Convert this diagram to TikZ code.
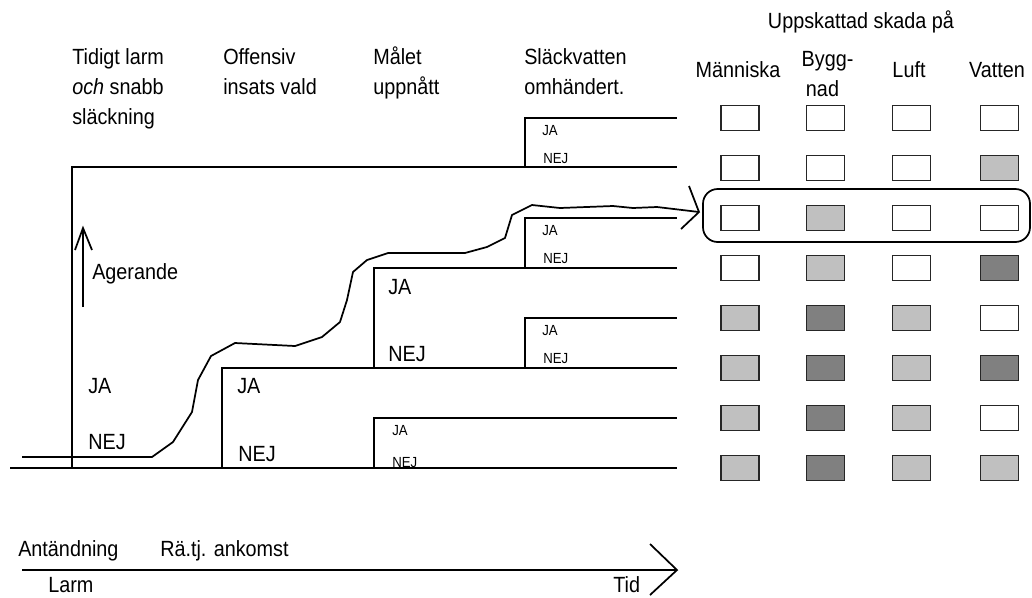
\documentclass[tikz,border=0pt]{standalone}
\usepackage{fontspec}
\setmainfont{Liberation Sans}[FakeStretch=0.9]
\definecolor{lgr}{HTML}{C0C0C0}
\definecolor{dgr}{HTML}{808080}
\begin{document}
\begin{tikzpicture}[x=0.75pt,y=-0.75pt,
  ln/.style={line width=1.4pt},
  head/.style={font=\fontsize{16.5}{19}\selectfont, anchor=base west, inner sep=0pt},
  headc/.style={font=\fontsize{16.5}{19}\selectfont, anchor=base, inner sep=0pt},
  smalltxt/.style={font=\fontsize{11}{13}\selectfont, anchor=base west, inner sep=0pt},
  sq/.style={draw=black!85, line width=0.8pt, minimum width=28.5pt, minimum height=19pt, inner sep=0pt},
  wsq/.style={sq, fill=white},
  lsq/.style={sq, fill=lgr},
  dsq/.style={sq, fill=dgr}]
\useasboundingbox (0,0) rectangle (1032,597);

% headings
\node[head] (h1a) at (72,64) {Tidigt larm};
\node[head] (h1b) at (72,94) {\textit{och} snabb};
\node[head] (h1c) at (72,124) {släckning};
\node[head] (h2a) at (223,64) {Offensiv};
\node[head] (h2b) at (223,94) {insats vald};
\node[head] (h3a) at (373,64) {Målet};
\node[head] (h3b) at (373,94) {uppnått};
\node[head] (h4a) at (524,64) {Släckvatten};
\node[head] (h4b) at (524,94) {omhändert.};

\node[headc] (top) at (861,28) {Uppskattad skada på};
\node[headc] (c1) at (738,77.5) {Människa};
\node[headc] (c2a) at (827.5,66) {Bygg-};
\node[headc] (c2b) at (822.5,96.5) {nad};
\node[headc] (c3) at (909,77.5) {Luft};
\node[headc] (c4) at (997,77.5) {Vatten};

% tree lines
\draw[ln] (10,468) -- (677,468);
\draw[ln] (72,468) |- (677,167);
\draw[ln] (222,468) |- (677,368);
\draw[ln] (374,368) |- (677,268);
\draw[ln] (374,468) |- (677,418);
\draw[ln] (525,167) |- (677,118);
\draw[ln] (525,268) |- (677,218);
\draw[ln] (525,368) |- (677,318);

% tree labels
\node[head] (ja1) at (88,393) {JA};
\node[head] (nej1) at (88,449) {NEJ};
\node[head] (ja2) at (237,393) {JA};
\node[head] (nej2) at (238,461) {NEJ};
\node[head] (ja3) at (388,294) {JA};
\node[head] (nej3) at (388,361) {NEJ};
\node[smalltxt] (ja4) at (392,435) {JA};
\node[smalltxt] (nej4) at (392,467) {NEJ};
\node[smalltxt] (ja5) at (542,135) {JA};
\node[smalltxt] (nej5) at (543,163) {NEJ};
\node[smalltxt] (ja6) at (542,235) {JA};
\node[smalltxt] (nej6) at (543,263) {NEJ};
\node[smalltxt] (ja7) at (542,335) {JA};
\node[smalltxt] (nej7) at (543,363) {NEJ};

% Agerande arrow
\coordinate (agB) at (83,307);
\coordinate (agT) at (83,228);
\draw[line width=1.3pt] (agB) -- (agT);
\draw[line width=1.3pt] (75,250) -- (agT) -- (92,250);
\node[head] (ager) at (92,279) {Agerande};

% wiggly path
\coordinate (wtip) at (699,212);
\draw[line width=1.3pt, line join=round]
 (22,457) -- (152,457) -- (173,442) -- (192,412) -- (198,380) -- (211,356)
 -- (235,343) -- (295,346) -- (322,337) -- (340,322) -- (347,300) -- (353,272)
 -- (367,260) -- (388,253) -- (465,253) -- (487,247) -- (505,238) -- (512,215)
 -- (532,205) -- (560,208) -- (613,206) -- (633,208) -- (657,207) -- (wtip);
\draw[line width=1.3pt] (689,186) -- (wtip) -- (681,229);

% highlight box
\draw[line width=1.3pt, rounded corners=11pt] (703,189) rectangle (1030,242);

% squares
\foreach \r/\y/\a/\b/\c/\d in {
 1/118/w/w/w/w,
 2/168/w/w/w/l,
 3/218/w/l/w/w,
 4/268/w/l/w/d,
 5/318/l/d/l/w,
 6/368/l/d/l/d,
 7/418/l/d/l/w,
 8/468/l/d/l/l}{
  \node[\a sq] (s\r a) at (740,\y) {};
  \node[\b sq] (s\r b) at (825.5,\y) {};
  \node[\c sq] (s\r c) at (911.5,\y) {};
  \node[\d sq] (s\r d) at (999.5,\y) {};
}

% time axis
\coordinate (ax0) at (22,570);
\coordinate (ax1) at (677,570);
\draw[line width=1.3pt] (ax0) -- (ax1);
\draw[line width=1.3pt] (650,544) -- (ax1) -- (650,595);
\node[head] (ant) at (18,556) {Antändning};
\node[head] (rat) at (160,556) {Rä.tj. ankomst};
\node[head] (larm) at (48,592) {Larm};
\node[head] (tid) at (613,592) {Tid};
\end{tikzpicture}
\end{document}
